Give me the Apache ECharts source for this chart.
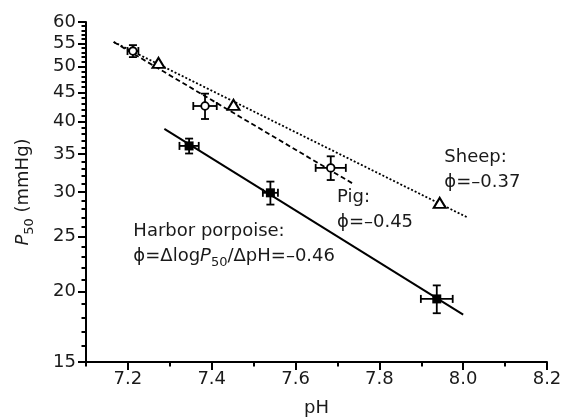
<!DOCTYPE html>
<html>
<head>
<meta charset="utf-8">
<script src="https://cdn.jsdelivr.net/npm/echarts@6/dist/echarts.min.js"></script>
<style>
  html, body { margin: 0; background: #fff; }
  #chart { width: 563px; height: 418px; }
</style>
</head>
<body>
<div id="chart"></div>
<script>
// harbor porpoise (filled squares, solid fit)
const porpoisePH = [7.346, 7.540, 7.937]
const porpoiseP50 = [36.2, 29.9, 19.4]
const porpoisePHErr = [0.023, 0.018, 0.038]
const porpoiseP50Err = [1.1, 1.4, 1.1]
const porpoiseFitPH = [7.287, 8.0]
const porpoiseFitP50 = [38.8, 18.2]

// pig (open circles, dashed fit)
const pigPH = [7.212, 7.384, 7.684]
const pigP50 = [53.3, 42.6, 33.1]
const pigPHErr = [0.013, 0.028, 0.036]
const pigP50Err = [1.3, 2.2, 1.6]
const pigFitPH = [7.166, 7.735]
const pigFitP50 = [55.3, 31.1]

// sheep (open triangles, dotted fit)
const sheepPH = [7.273, 7.452, 7.944]
const sheepP50 = [50.8, 42.8, 28.7]
const sheepFitPH = [7.166, 8.012]
const sheepFitP50 = [55.3, 27.0]

// axis ticks
const xLabelTicks = [7.2, 7.4, 7.6, 7.8, 8.0, 8.2]
const xMinorTicks = [7.1, 7.3, 7.5, 7.7, 7.9, 8.1]
const yLabelTicks = [15, 20, 25, 30, 35, 40, 45, 50, 55, 60]
const yMinorTicks = [15, 16, 17, 18, 19, 20, 21, 22, 23, 24, 25, 26, 27, 28, 29, 30, 31, 32, 33, 34, 35, 36, 37, 38, 39, 40, 41, 42, 43, 44, 45, 46, 47, 48, 49, 50, 51, 52, 53, 54, 55, 56, 57, 58, 59, 60]

// annotations (anchored at top-left, in data units)
const noteText = [
  'Harbor porpoise:\nϕ=Δlog{i|P}{s|50}/ΔpH=–0.46',
  'Pig:\nϕ=–0.45',
  'Sheep:\nϕ=–0.37'
]
const notePH = [7.213, 7.699, 7.955]
const noteP50 = [26.9, 30.9, 36.4]

const font = 'DejaVu Sans'
const ink = '#1a1a1a'
const lg = Math.log10

function errorRows(ph, p, phErr, pErr) {
  return ph.map((v, i) => [v, lg(p[i]), phErr[i], lg(p[i] - pErr[i]), lg(p[i] + pErr[i])])
}

function errorBarItem(shape) {
  return function (params, api) {
    const x = api.value(0)
    const y = api.value(1)
    const c = api.coord([x, y])
    const left = api.coord([x - api.value(2), y])
    const right = api.coord([x + api.value(2), y])
    const lo = api.coord([x, api.value(3)])
    const hi = api.coord([x, api.value(4)])
    const cap = 4
    const seg = (x1, y1, x2, y2) => ({
      type: 'line',
      shape: { x1, y1, x2, y2 },
      style: { stroke: '#000', lineWidth: 1.8 }
    })
    const children = [
      seg(left[0], c[1], right[0], c[1]),
      seg(left[0], c[1] - cap, left[0], c[1] + cap),
      seg(right[0], c[1] - cap, right[0], c[1] + cap),
      seg(c[0], lo[1], c[0], hi[1]),
      seg(c[0] - cap, lo[1], c[0] + cap, lo[1]),
      seg(c[0] - cap, hi[1], c[0] + cap, hi[1])
    ]
    if (shape === 'square') {
      children.push({ type: 'rect', shape: { x: c[0] - 4.5, y: c[1] - 4.5, width: 9, height: 9 }, style: { fill: '#000' } })
    } else {
      children.push({ type: 'circle', shape: { cx: c[0], cy: c[1], r: 3.8 }, style: { fill: '#fff', stroke: '#000', lineWidth: 1.8 } })
    }
    return { type: 'group', children }
  }
}

function fitLine(ph, p, dash, width) {
  return {
    type: 'line',
    data: ph.map((v, i) => [v, lg(p[i])]),
    showSymbol: false,
    symbol: 'none',
    z: 1,
    lineStyle: { color: '#000', width, type: dash }
  }
}

const richSub = {
  i: { fontFamily: font, fontSize: 18, fontStyle: 'italic', lineHeight: 25, color: ink },
  s: { fontFamily: font, fontSize: 13, lineHeight: 15, verticalAlign: 'bottom', color: ink }
}

const chart = echarts.init(document.getElementById('chart'))
chart.setOption({
  animation: false,
  grid: { left: 86, right: 16, top: 22, bottom: 56, containLabel: false, outerBoundsMode: 'none' },
  xAxis: [{
    type: 'value',
    min: 7.1,
    max: 8.2,
    name: 'pH',
    nameLocation: 'middle',
    nameGap: 37,
    nameTextStyle: { fontFamily: font, fontSize: 18, color: ink },
    splitLine: { show: false },
    axisLine: { lineStyle: { color: '#000', width: 2 } },
    axisTick: { customValues: xLabelTicks, length: 8, lineStyle: { color: '#000', width: 2 } },
    axisLabel: {
      customValues: xLabelTicks,
      margin: 8,
      fontFamily: font,
      fontSize: 18,
      color: ink,
      formatter: v => v.toFixed(1)
    }
  }, {
    type: 'value',
    min: 7.1,
    max: 8.2,
    position: 'bottom',
    splitLine: { show: false },
    axisLine: { show: false },
    axisTick: { customValues: xMinorTicks, length: 4.5, lineStyle: { color: '#000', width: 2 } },
    axisLabel: { show: false }
  }],
  yAxis: [{
    type: 'value',
    min: lg(15),
    max: lg(60),
    name: '{i|P}{s|50} (mmHg)',
    nameLocation: 'middle',
    nameGap: 50,
    nameTextStyle: { fontFamily: font, fontSize: 18, lineHeight: 25, color: ink, rich: richSub },
    splitLine: { show: false },
    axisLine: { lineStyle: { color: '#000', width: 2 } },
    axisTick: { customValues: yLabelTicks.map(lg), length: 8, lineStyle: { color: '#000', width: 2 } },
    axisLabel: {
      customValues: yLabelTicks.map(lg),
      margin: 10,
      fontFamily: font,
      fontSize: 18,
      color: ink,
      formatter: v => String(Math.round(Math.pow(10, v)))
    }
  }, {
    type: 'value',
    min: lg(15),
    max: lg(60),
    position: 'left',
    splitLine: { show: false },
    axisLine: { show: false },
    axisTick: { customValues: yMinorTicks.map(lg), length: 4.5, lineStyle: { color: '#000', width: 2 } },
    axisLabel: { show: false }
  }],
  series: [
    fitLine(porpoiseFitPH, porpoiseFitP50, 'solid', 2),
    fitLine(pigFitPH, pigFitP50, [5, 3], 1.8),
    fitLine(sheepFitPH, sheepFitP50, [2, 2], 1.8),
    {
      type: 'custom',
      z: 3,
      encode: { x: 0, y: 1 },
      data: errorRows(porpoisePH, porpoiseP50, porpoisePHErr, porpoiseP50Err),
      renderItem: errorBarItem('square')
    },
    {
      type: 'custom',
      z: 3,
      encode: { x: 0, y: 1 },
      data: errorRows(pigPH, pigP50, pigPHErr, pigP50Err),
      renderItem: errorBarItem('circle')
    },
    {
      type: 'scatter',
      z: 3,
      symbol: 'triangle',
      symbolSize: [12, 10],
      itemStyle: { color: '#fff', borderColor: '#000', borderWidth: 2, opacity: 1 },
      data: sheepPH.map((v, i) => [v, lg(sheepP50[i])])
    },
    {
      type: 'custom',
      z: 4,
      silent: true,
      data: notePH.map((v, i) => [v, lg(noteP50[i])]),
      renderItem: (params, api) => {
        const p = api.coord([api.value(0), api.value(1)])
        return {
          type: 'text',
          x: p[0],
          y: p[1],
          style: {
            text: noteText[params.dataIndex],
            fontFamily: font,
            fontSize: 18,
            lineHeight: 25,
            fill: ink,
            align: 'left',
            verticalAlign: 'top',
            rich: richSub
          }
        }
      }
    }
  ]
})
</script>
</body>
</html>
